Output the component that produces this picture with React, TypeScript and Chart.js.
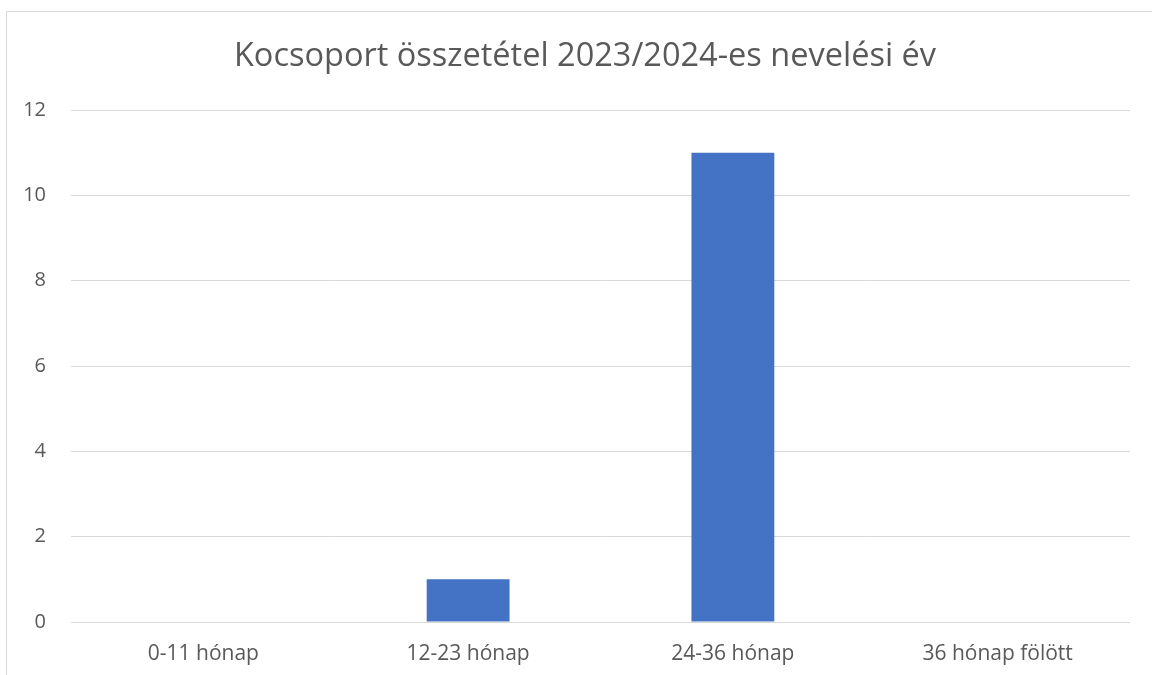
import React, { useEffect, useRef } from "react";
import { Chart, registerables } from "chart.js";

Chart.register(...registerables);

const categories = ["0-11 hónap", "12-23 hónap", "24-36 hónap", "36 hónap fölött"];
const values = [0, 1, 11, 0];
const titleText = "Kocsoport összetétel 2023/2024-es nevelési év";
const FONT = "'Open Sans', Lato, sans-serif";

const framePlugin = {
  id: "frame",
  beforeDraw(chart: any) {
    const ctx = chart.ctx;
    ctx.save();
    ctx.fillStyle = "#ffffff";
    ctx.fillRect(0, 0, chart.width, chart.height);
    ctx.strokeStyle = "#d9d9d9";
    ctx.lineWidth = 1;
    ctx.beginPath();
    ctx.moveTo(6.5, chart.height);
    ctx.lineTo(6.5, 11.5);
    ctx.lineTo(chart.width, 11.5);
    ctx.stroke();
    ctx.restore();
  },
};

export default function App() {
  const ref = useRef<HTMLCanvasElement>(null);
  useEffect(() => {
    if (!ref.current) return;
    const chart = new Chart(ref.current, {
      type: "bar",
      data: {
        labels: categories,
        datasets: [
          {
            data: values,
            backgroundColor: "#4472C4",
            borderWidth: 0,
            categoryPercentage: 0.313,
            barPercentage: 1,
            yAxisID: "y",
          },
        ],
      },
      options: {
        animation: false,
        responsive: false,
        layout: { padding: { left: 18, right: 0, top: 0, bottom: 0 } },
        plugins: {
          legend: { display: false },
          tooltip: { enabled: false },
          title: {
            display: true,
            text: titleText,
            color: "#595959",
            font: { family: FONT, size: 32.5, weight: "normal", lineHeight: 1.2 },
            padding: { top: 37, bottom: 34 },
          },
        },
        scales: {
          x: {
            grid: { display: false, drawTicks: false },
            border: { display: false },
            ticks: {
              color: "#595959",
              font: { family: FONT, size: 21 },
              padding: 19,
              maxRotation: 0,
            },
            afterFit(axis: any) {
              axis.height = 53;
            },
          },
          y: {
            min: 0,
            max: 12,
            grid: { color: "#d9d9d9", lineWidth: 1, drawTicks: false },
            border: { display: false },
            ticks: {
              stepSize: 2,
              color: "#595959",
              font: { family: FONT, size: 20 },
              padding: 25,
            },
            afterFit(axis: any) {
              axis.width = 53;
            },
          },
          yRight: {
            type: "linear",
            position: "right",
            display: true,
            grid: { display: false, drawTicks: false },
            border: { display: false },
            ticks: { display: false },
            afterFit(axis: any) {
              axis.width = 22;
            },
          },
        },
      } as any,
      plugins: [framePlugin],
    });
    return () => chart.destroy();
  }, []);
  return (
    <div style={{ position: "absolute", left: 0, top: 0, width: 1152, height: 675 }}>
      <canvas ref={ref} width={1152} height={675} style={{ display: "block" }} />
    </div>
  );
}
